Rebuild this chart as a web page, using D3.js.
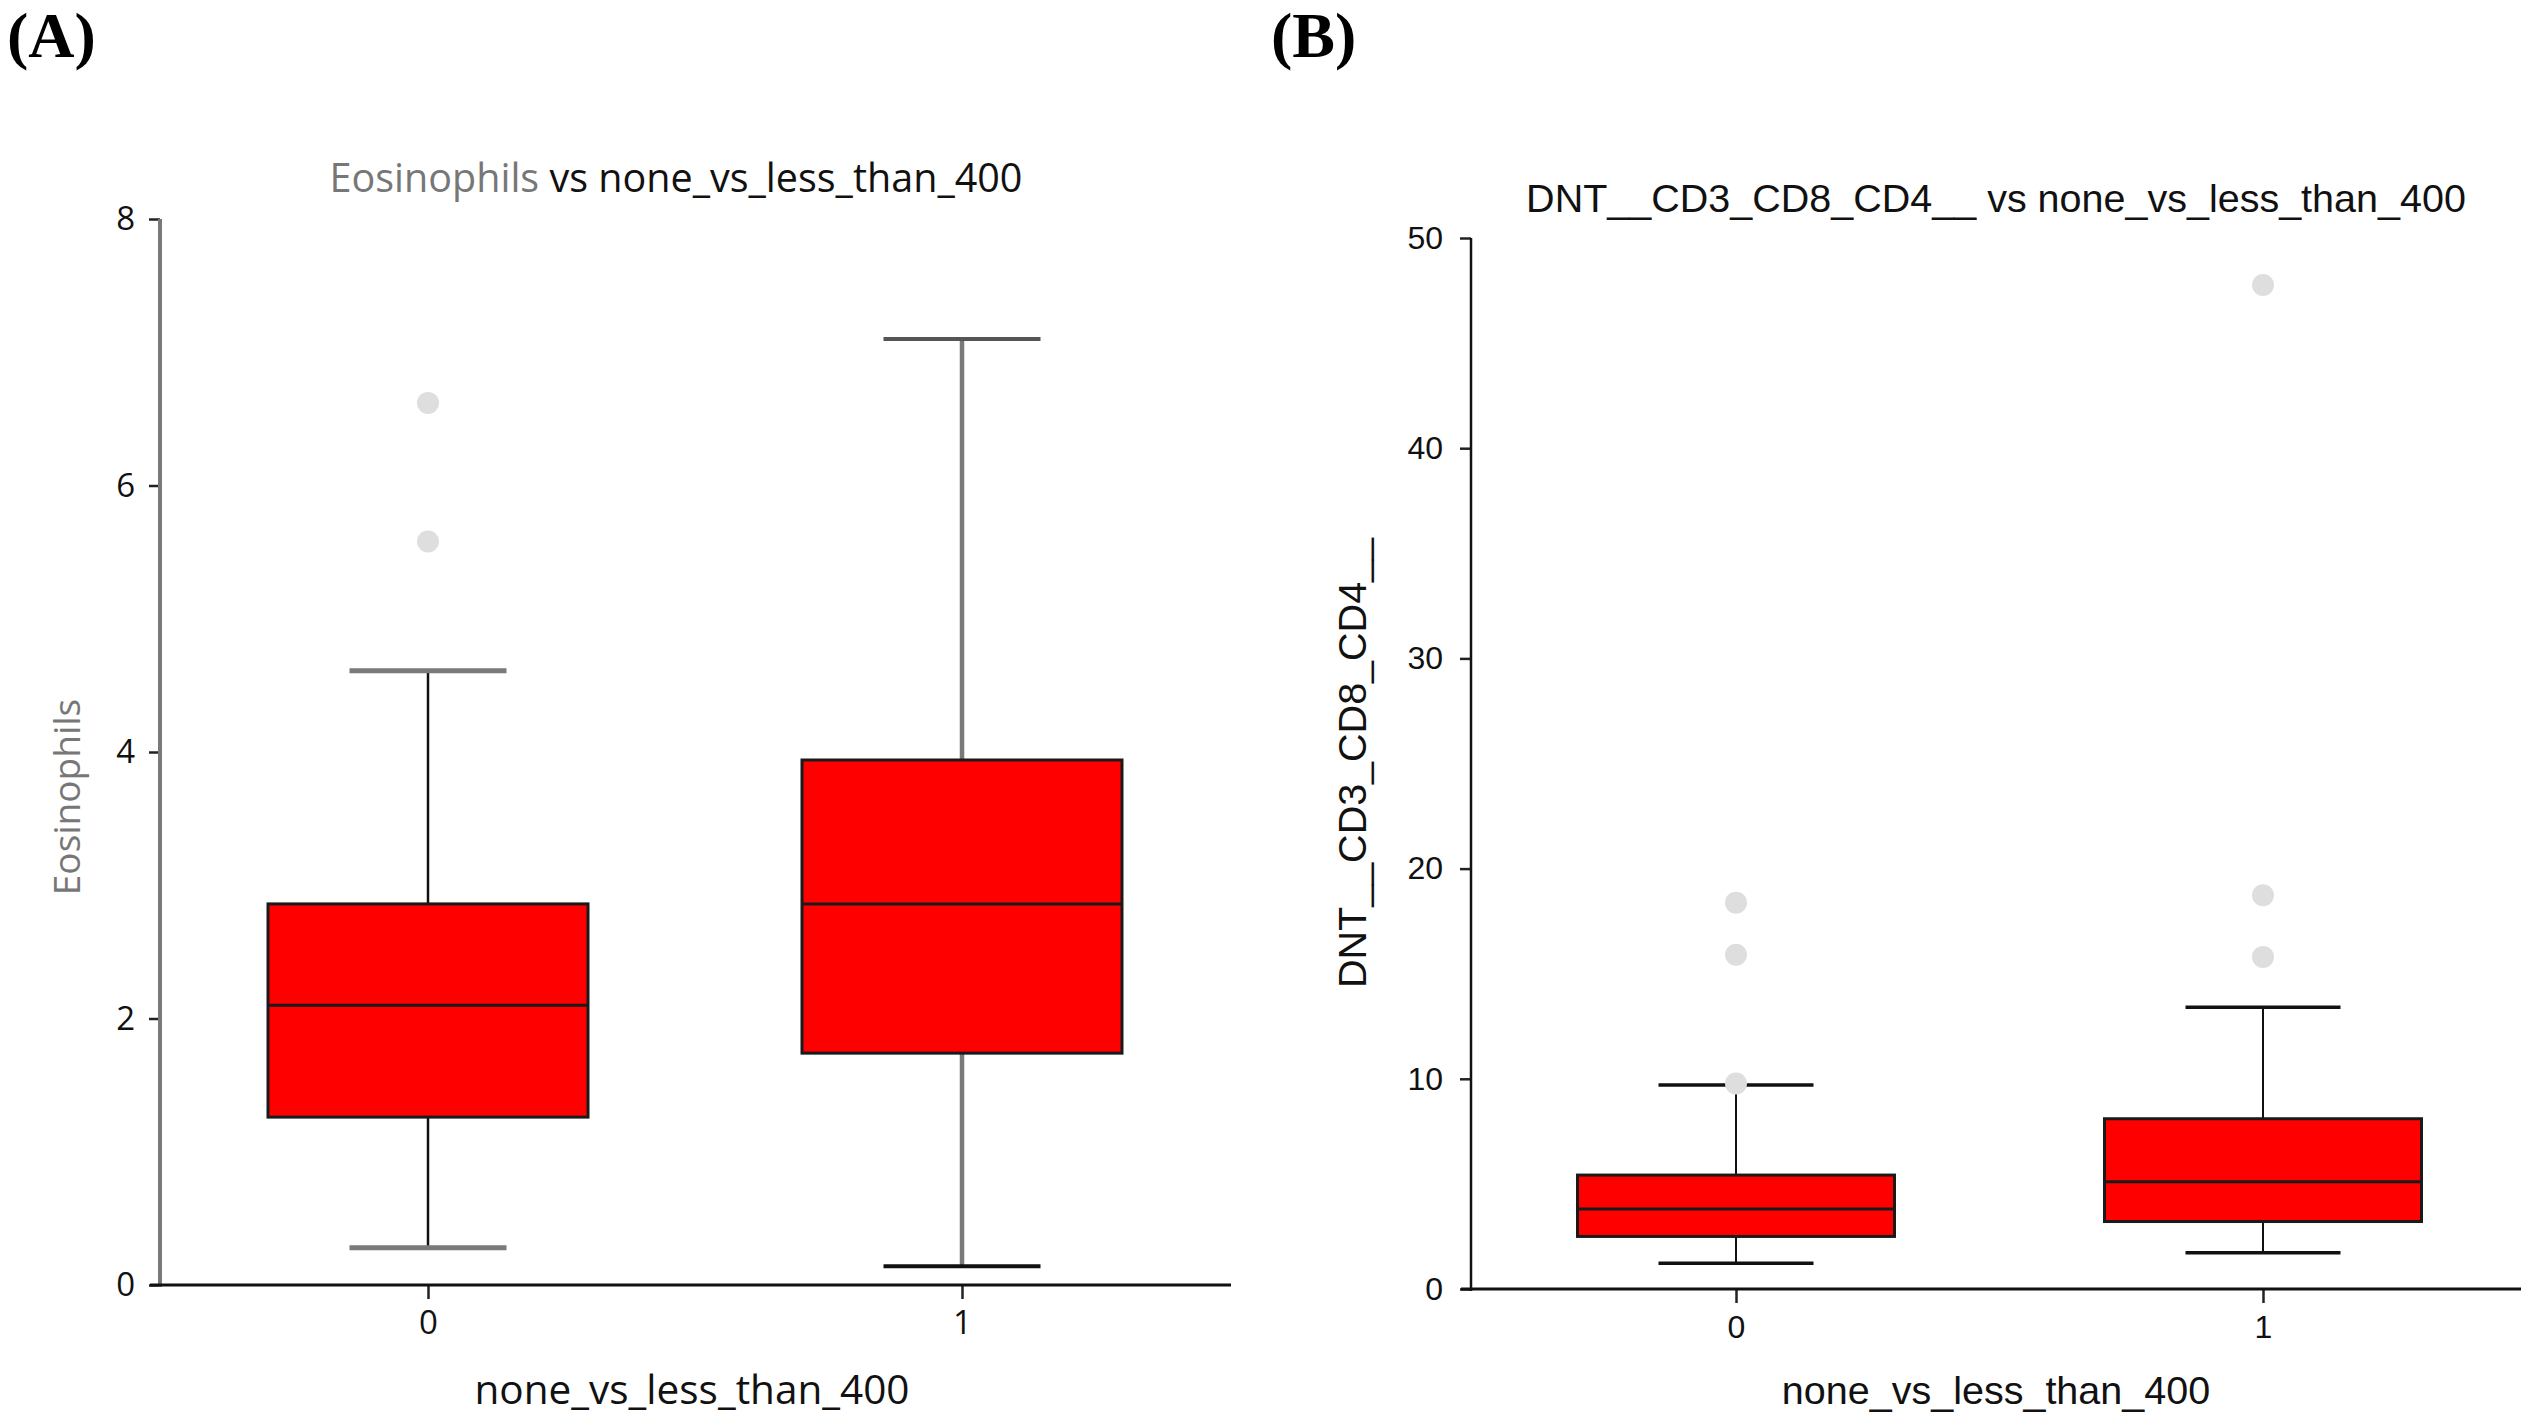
<!DOCTYPE html>
<html>
<head>
<meta charset="utf-8">
<script src="https://cdn.jsdelivr.net/npm/d3@7.9.0/dist/d3.min.js"></script>
<style>
  body { margin: 0; background: #fff; }
  svg { display: block; }
</style>
</head>
<body>
<svg id="chart" width="2531" height="1423"></svg>
<script>
// groups on the x axis
const groups = ['0', '1'];

// panel A: Eosinophils
const eosQ1 = [1.26, 1.74];
const eosMedian = [2.10, 2.86];
const eosQ3 = [2.86, 3.94];
const eosLow = [0.28, 0.14];
const eosHigh = [4.61, 7.10];
const eosOutliers = [[6.62, 5.58], []];
const eosTicks = [0, 2, 4, 6, 8];

// panel B: DNT__CD3_CD8_CD4__
const dntQ1 = [2.50, 3.21];
const dntMedian = [3.80, 5.10];
const dntQ3 = [5.42, 8.10];
const dntLow = [1.22, 1.72];
const dntHigh = [9.70, 13.40];
const dntOutliers = [[18.38, 15.90, 9.78], [47.76, 18.73, 15.80]];
const dntTicks = [0, 10, 20, 30, 40, 50];

const svg = d3.select('#chart');

function drawPanel(opt) {
  const g = svg.append('g');
  const x = d3.scalePoint().domain(groups).range(opt.xRange);
  const y = d3.scaleLinear().domain(opt.yDomain).range(opt.yRange);

  // y axis
  const yAxis = g.append('g')
    .attr('transform', `translate(${opt.axisX},0)`)
    .call(d3.axisLeft(y).tickValues(opt.ticks).tickSize(11).tickPadding(opt.yPad).tickSizeOuter(0));
  yAxis.select('.domain').remove();
  yAxis.append('line')
    .attr('y1', y(opt.yDomain[1]))
    .attr('y2', y(0) + 2)
    .attr('stroke', opt.yAxisColor)
    .attr('stroke-width', opt.yAxisWidth);
  yAxis.selectAll('.tick line').attr('stroke', '#222').attr('stroke-width', 2.5);
  yAxis.selectAll('.tick text')
    .attr('fill', '#111')
    .style('font-family', opt.font)
    .style('font-size', opt.tickSize + 'px');

  // x axis
  const xAxis = g.append('g')
    .attr('transform', `translate(0,${y(0)})`)
    .call(d3.axisBottom(x).tickSize(14).tickPadding(12).tickSizeOuter(0));
  xAxis.select('.domain').remove();
  xAxis.append('line')
    .attr('x1', opt.xLine[0])
    .attr('x2', opt.xLine[1])
    .attr('stroke', '#111')
    .attr('stroke-width', 3);
  xAxis.selectAll('.tick line').attr('stroke', '#222').attr('stroke-width', 2.5);
  xAxis.selectAll('.tick text')
    .attr('fill', '#111')
    .style('font-family', opt.font)
    .style('font-size', opt.tickSize + 'px');

  // boxes
  groups.forEach((grp, i) => {
    const cx = x(grp);
    const st = opt.styles[i];
    // whisker stems
    g.append('line')
      .attr('x1', cx).attr('x2', cx)
      .attr('y1', y(opt.q3[i])).attr('y2', y(opt.high[i]))
      .attr('stroke', st.stemColor).attr('stroke-width', st.stemWidth);
    g.append('line')
      .attr('x1', cx).attr('x2', cx)
      .attr('y1', y(opt.q1[i])).attr('y2', y(opt.low[i]))
      .attr('stroke', st.stemColor).attr('stroke-width', st.stemWidth);
    // caps
    g.append('line')
      .attr('x1', cx - opt.capW / 2).attr('x2', cx + opt.capW / 2)
      .attr('y1', y(opt.high[i])).attr('y2', y(opt.high[i]))
      .attr('stroke', st.topCap).attr('stroke-width', st.topCapW);
    g.append('line')
      .attr('x1', cx - opt.capW / 2).attr('x2', cx + opt.capW / 2)
      .attr('y1', y(opt.low[i])).attr('y2', y(opt.low[i]))
      .attr('stroke', st.lowCap).attr('stroke-width', st.lowCapW);
    // box
    g.append('rect')
      .attr('x', cx - opt.boxW / 2)
      .attr('width', opt.boxW)
      .attr('y', y(opt.q3[i]))
      .attr('height', y(opt.q1[i]) - y(opt.q3[i]))
      .attr('fill', '#ff0000')
      .attr('stroke', '#1a1a1a')
      .attr('stroke-width', 3);
    g.append('line')
      .attr('x1', cx - opt.boxW / 2).attr('x2', cx + opt.boxW / 2)
      .attr('y1', y(opt.median[i])).attr('y2', y(opt.median[i]))
      .attr('stroke', '#1a1a1a').attr('stroke-width', 3);
    // outliers
    g.selectAll(null)
      .data(opt.outliers[i])
      .join('circle')
      .attr('cx', cx)
      .attr('cy', d => y(d))
      .attr('r', 11)
      .attr('fill', '#dedede');
  });

  // title
  const title = g.append('text')
    .attr('x', opt.titleX)
    .attr('y', opt.titleY)
    .attr('text-anchor', 'middle')
    .style('font-family', opt.font)
    .style('font-size', opt.titleSize + 'px');
  title.append('tspan').attr('fill', opt.nameColor).text(opt.name);
  title.append('tspan').attr('fill', '#111').text(' vs none_vs_less_than_400');

  // axis labels
  g.append('text')
    .attr('x', opt.titleX + opt.xLabelShift)
    .attr('y', 1404)
    .attr('text-anchor', 'middle')
    .attr('fill', '#111')
    .style('font-family', opt.font)
    .style('font-size', opt.labelSize + 'px')
    .text('none_vs_less_than_400');

  g.append('text')
    .attr('transform', `translate(${opt.yLabelX},${opt.yLabelY}) rotate(-90)`)
    .attr('text-anchor', 'middle')
    .attr('fill', opt.nameColor)
    .style('font-family', opt.font)
    .style('font-size', opt.yLabelSize + 'px')
    .text(opt.name);

  // panel letter
  svg.append('text')
    .attr('x', opt.letterX)
    .attr('y', 57)
    .attr('fill', '#000')
    .style('font-family', '"Liberation Serif", "Times New Roman", serif')
    .style('font-weight', 'bold')
    .style('font-size', '64px')
    .text(opt.letter);
}

drawPanel({
  letter: '(A)', letterX: 7,
  name: 'Eosinophils', nameColor: '#777',
  font: '"Open Sans", sans-serif',
  xRange: [428, 962], xLine: [150, 1231],
  yDomain: [0, 8], yRange: [1285, 219],
  axisX: 160, yAxisColor: '#7a7a7a', yAxisWidth: 4,
  ticks: eosTicks, yPad: 14,
  q1: eosQ1, median: eosMedian, q3: eosQ3, low: eosLow, high: eosHigh, outliers: eosOutliers,
  boxW: 320, capW: 157,
  styles: [
    { stemColor: '#111', stemWidth: 2.5, topCap: '#7a7a7a', topCapW: 5, lowCap: '#7a7a7a', lowCapW: 5 },
    { stemColor: '#7a7a7a', stemWidth: 4.5, topCap: '#555', topCapW: 4, lowCap: '#111', lowCapW: 4 }
  ],
  titleX: 676, titleY: 192, titleSize: 39.5,
  xLabelShift: 16, labelSize: 40.5, yLabelSize: 37,
  yLabelX: 80, yLabelY: 797,
  tickSize: 33
});

drawPanel({
  letter: '(B)', letterX: 1271,
  name: 'DNT__CD3_CD8_CD4__', nameColor: '#111',
  font: '"Liberation Sans", Arial, sans-serif',
  xRange: [1736, 2263], xLine: [1461, 2521],
  yDomain: [0, 50], yRange: [1289, 238],
  axisX: 1471, yAxisColor: '#111', yAxisWidth: 2.5,
  ticks: dntTicks, yPad: 17,
  q1: dntQ1, median: dntMedian, q3: dntQ3, low: dntLow, high: dntHigh, outliers: dntOutliers,
  boxW: 317, capW: 155,
  styles: [
    { stemColor: '#111', stemWidth: 2, topCap: '#111', topCapW: 3.5, lowCap: '#111', lowCapW: 3.5 },
    { stemColor: '#111', stemWidth: 2, topCap: '#111', topCapW: 3.5, lowCap: '#111', lowCapW: 3.5 }
  ],
  titleX: 1996, titleY: 212, titleSize: 39.5,
  xLabelShift: 0, labelSize: 39.5, yLabelSize: 39.5,
  yLabelX: 1366, yLabelY: 763,
  tickSize: 32
});
</script>
</body>
</html>
